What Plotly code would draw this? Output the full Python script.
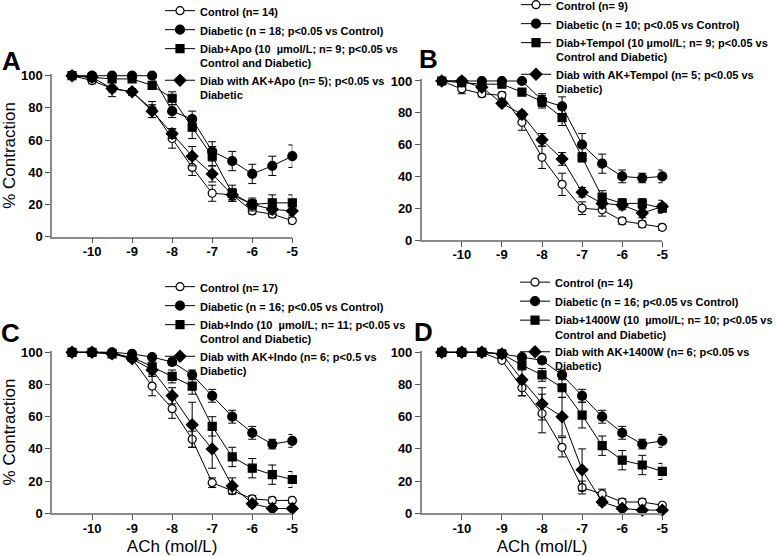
import plotly.graph_objects as go

# log molar ACh concentrations
ach = [-10.5, -10, -9.5, -9, -8.5, -8, -7.5, -7, -6.5, -6, -5.5, -5]
x_ticks = [-10, -9, -8, -7, -6, -5]
x_labels = ["-10", "-9", "-8", "-7", "-6", "-5"]
y_ticks = [0, 20, 40, 60, 80, 100]

# panel A (apocynin)
a_ctrl = [100, 97, 92, 90, 79, 61, 43, 27, 26, 16, 14, 10]
a_ctrl_err = [0, 2, 2, 2, 5, 6, 5, 5, 4, 2, 2, 2]
a_diab = [100, 100, 100, 100, 100, 78, 73, 53, 47, 39, 44, 50]
a_diab_err = [0, 0, 0, 0, 0, 4, 5, 6, 6, 6, 6, 7]
a_drug = [100, 99, 98, 98, 94, 86, 68, 50, 27, 20, 21, 21]
a_drug_err = [0, 0, 1, 1, 2, 4, 7, 6, 5, 4, 5, 5]
a_ak = [100, 99, 92, 90, 78, 64, 50, 39, 26, 20, 17, 16]
a_ak_err = [0, 1, 5, 2, 4, 3, 6, 5, 3, 3, 3, 3]

# panel B (tempol)
b_ctrl = [100, 95, 92, 91, 74, 52, 35, 20, 19, 12, 10, 8]
b_ctrl_err = [0, 3, 2, 2, 5, 7, 7, 4, 4, 2, 2, 2]
b_diab = [100, 100, 100, 100, 100, 88, 84, 60, 48, 40, 39, 40]
b_diab_err = [0, 0, 0, 0, 0, 4, 6, 7, 6, 4, 3, 4]
b_drug = [100, 99, 98, 98, 93, 87, 77, 52, 27, 23, 23, 20]
b_drug_err = [0, 1, 1, 1, 2, 4, 5, 3, 4, 3, 3, 3]
b_ak = [100, 100, 96, 86, 79, 63, 51, 30, 23, 22, 17, 21]
b_ak_err = [0, 1, 1, 2, 2, 4, 4, 3, 3, 3, 3, 4]

# panel C (indomethacin)
c_ctrl = [100, 100, 100, 96, 79, 65, 46, 19, 14, 9, 8, 8]
c_ctrl_err = [0, 0, 0, 1, 6, 6, 5, 3, 2, 2, 2, 2]
c_diab = [100, 100, 100, 99, 97, 94, 86, 73, 60, 50, 43, 45]
c_diab_err = [0, 0, 0, 0, 1, 2, 3, 4, 4, 4, 3, 4]
c_drug = [100, 100, 99, 97, 91, 85, 79, 54, 35, 28, 24, 21]
c_drug_err = [0, 0, 1, 1, 3, 4, 5, 6, 6, 6, 6, 5]
c_ak = [100, 100, 99, 96, 89, 73, 55, 40, 17, 6, 3, 3]
c_ak_err = [0, 0, 0, 1, 3, 5, 14, 12, 5, 2, 1, 1]

# panel D (1400W)
d_ctrl = [100, 100, 100, 95, 78, 62, 41, 16, 12, 7, 7, 5]
d_ctrl_err = [0, 0, 0, 1, 5, 12, 6, 4, 3, 2, 2, 1]
d_diab = [100, 100, 100, 99, 97, 95, 86, 73, 60, 50, 43, 45]
d_diab_err = [0, 0, 0, 0, 1, 2, 3, 4, 4, 4, 3, 4]
d_drug = [100, 100, 100, 99, 92, 86, 78, 61, 42, 33, 30, 26]
d_drug_err = [0, 0, 0, 1, 3, 4, 6, 8, 6, 6, 6, 5]
d_ak = [100, 100, 100, 99, 83, 68, 60, 27, 7, 3, 2, 2]
d_ak_err = [0, 0, 0, 1, 10, 10, 12, 13, 2, 1, 1, 1]

names_a = [
    "Control (n= 14)",
    "Diabetic (n = 18; p&lt;0.05 vs Control)",
    "Diab+Apo (10  µmol/L; n= 9; p&lt;0.05 vs<br>Control and Diabetic)",
    "Diab with AK+Apo (n= 5); p&lt;0.05 vs<br>Diabetic",
]
names_b = [
    "Control (n= 9)",
    "Diabetic (n = 10; p&lt;0.05 vs Control)",
    "Diab+Tempol (10 µmol/L; n= 9; p&lt;0.05 vs<br>Control and Diabetic)",
    "Diab with AK+Tempol (n= 5; p&lt;0.05 vs<br>Diabetic)",
]
names_c = [
    "Control (n= 17)",
    "Diabetic (n = 16; p&lt;0.05 vs Control)",
    "Diab+Indo (10  µmol/L; n= 11; p&lt;0.05 vs<br>Control and Diabetic)",
    "Diab with AK+Indo (n= 6; p&lt;0.5 vs<br>Diabetic)",
]
names_d = [
    "Control (n= 14)",
    "Diabetic (n = 16; p&lt;0.05 vs Control)",
    "Diab+1400W (10  µmol/L; n= 10; p&lt;0.05 vs<br>Control and Diabetic)",
    "Diab with AK+1400W (n= 6; p&lt;0.05 vs<br>Diabetic)",
]

W, H = 778, 556
FONT = "Liberation Sans, Arial, sans-serif"

# marker style per group: control, diabetic, drug, AK+drug
styles = [
    dict(symbol="circle", color="white", size=8),
    dict(symbol="circle", color="black", size=9),
    dict(symbol="square", color="black", size=8),
    dict(symbol="diamond", color="black", size=9),
]

panels = [
    ("x", "y", "legend", names_a,
     [(a_ctrl, a_ctrl_err), (a_diab, a_diab_err), (a_drug, a_drug_err), (a_ak, a_ak_err)]),
    ("x2", "y2", "legend2", names_b,
     [(b_ctrl, b_ctrl_err), (b_diab, b_diab_err), (b_drug, b_drug_err), (b_ak, b_ak_err)]),
    ("x3", "y3", "legend3", names_c,
     [(c_ctrl, c_ctrl_err), (c_diab, c_diab_err), (c_drug, c_drug_err), (c_ak, c_ak_err)]),
    ("x4", "y4", "legend4", names_d,
     [(d_ctrl, d_ctrl_err), (d_diab, d_diab_err), (d_drug, d_drug_err), (d_ak, d_ak_err)]),
]

fig = go.Figure()

for xa, ya, leg, names, series in panels:
    for name, st, (vals, errs) in zip(names, styles, series):
        fig.add_trace(go.Scatter(
            x=ach, y=vals, name=name, xaxis=xa, yaxis=ya, legend=leg,
            mode="lines+markers", cliponaxis=False,
            line=dict(color="black", width=1),
            marker=dict(symbol=st["symbol"], size=st["size"], color=st["color"],
                        line=dict(color="black", width=1.2)),
            error_y=dict(type="data", array=errs, color="black", thickness=1, width=4),
        ))

# pixel geometry of each plot area: left, right, bottom, top
boxes = {
    "": (52, 292.3, 236.7, 74.1),
    "2": (421.7, 662.3, 240, 79.4),
    "3": (52, 292.3, 513.3, 350.7),
    "4": (421.7, 662.3, 513.3, 350.7),
}

tick_font = dict(family=FONT, size=13, color="black", weight="bold")
layout = {}
for k, (l, r, b, t) in boxes.items():
    layout["xaxis" + k] = dict(
        domain=[l / W, r / W], range=[-11, -5], anchor="y" + k,
        tickvals=x_ticks, ticktext=x_labels, ticks="outside", ticklen=5,
        tickcolor="#555", showline=True, linecolor="#8a8a8a", linewidth=1.5,
        showgrid=False, zeroline=False, tickfont=tick_font, ticklabelstandoff=-3,
    )
    layout["yaxis" + k] = dict(
        domain=[(H - b) / H, (H - t) / H], range=[0, 101], anchor="x" + k,
        tickvals=y_ticks, ticks="outside", ticklen=5,
        tickcolor="#555", showline=True, linecolor="#8a8a8a", linewidth=1.5,
        showgrid=False, zeroline=False, tickfont=tick_font,
    )

title_font = dict(family=FONT, size=17, color="black")
layout["yaxis"]["title"] = dict(text="% Contraction", font=title_font, standoff=6)
layout["yaxis3"]["title"] = dict(text="% Contraction", font=title_font, standoff=6)
layout["xaxis3"]["title"] = dict(text="ACh (mol/L)", font=title_font, standoff=7)
layout["xaxis4"]["title"] = dict(text="ACh (mol/L)", font=title_font, standoff=7)

leg_font = dict(family=FONT, size=11, color="black", weight="bold")
leg_pos = {"legend": (160, -3), "legend2": (516, -9), "legend3": (160, 273), "legend4": (515, 268.5)}
for key, (lx, ly) in leg_pos.items():
    layout[key] = dict(
        x=lx / W, y=1 - ly / H, xanchor="left", yanchor="top",
        font=leg_font, bgcolor="rgba(0,0,0,0)", borderwidth=0,
        tracegroupgap=0, itemwidth=30, valign="top",
    )

fig.update_layout(
    **layout,
    width=W, height=H, margin=dict(l=0, r=0, t=0, b=0, autoexpand=False),
    paper_bgcolor="white", plot_bgcolor="white",
    font=dict(family=FONT, color="black"),
    showlegend=True,
)

# panel letters
for txt, x, y in [("A", 11, 61), ("B", 429, 59), ("C", 10, 333), ("D", 424, 332)]:
    fig.add_annotation(text="<b>%s</b>" % txt, x=x / W, y=1 - y / H, xref="paper", yref="paper",
                       showarrow=False, font=dict(family=FONT, size=26, color="black"),
                       xanchor="center", yanchor="middle")

# drop the browser's default page margin so the figure sits at the window corner
fig.write_html("out.html", config={"displayModeBar": False},
               post_script="document.body.style.margin = '0';")
